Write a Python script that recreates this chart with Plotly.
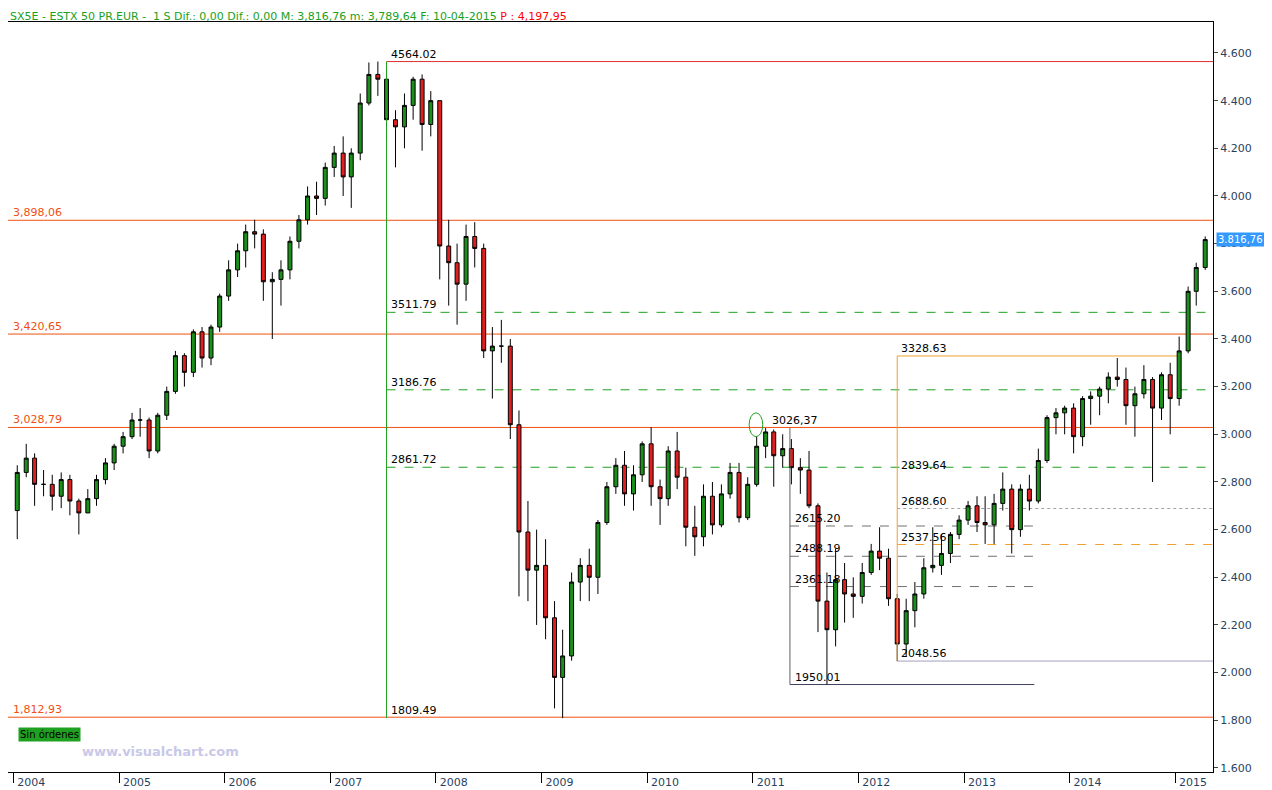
import plotly.graph_objects as go

months = [f"{y}-{m:02d}-15" for y in range(2004, 2016) for m in range(1, 13)][:136]
closes = [2840,2900,2790,2790,2740,2810,2720,2670,2730,2810,2880,2950,
          2990,3060,3060,2930,3080,3180,3330,3260,3430,3320,3450,3580,
          3690,3770,3850,3840,3640,3650,3690,3810,3900,4000,3990,4120,
          4180,4080,4180,4390,4510,4490,4320,4290,4380,4490,4300,4400,
          3790,3720,3630,3830,3780,3350,3370,3370,3040,2590,2430,2450,
          2230,1980,2070,2380,2450,2400,2630,2780,2870,2750,2830,2960,
          2780,2730,2930,2820,2610,2570,2740,2620,2750,2840,2650,2790,
          2950,3010,2910,2940,2860,2850,2700,2300,2180,2390,2330,2320,
          2420,2510,2480,2310,2120,2260,2330,2440,2450,2500,2580,2640,
          2700,2630,2620,2710,2770,2600,2770,2720,2890,3070,3090,3110,
          2990,3150,3160,3190,3240,3230,3120,3170,3230,3110,3250,3150,
          3350,3600,3700,3817]
first_open = 2680
highs = [2870,2960,2920,2850,2830,2840,2830,2730,2770,2830,2900,2960,
         3010,3090,3110,3070,3090,3200,3350,3340,3440,3450,3460,3590,
         3730,3800,3880,3900,3860,3680,3730,3830,3920,4040,4060,4140,
         4210,4250,4200,4430,4560,4564,4540,4360,4430,4500,4510,4440,
         4400,3900,3800,3880,3890,3800,3450,3480,3400,3100,2720,2600,
         2560,2300,2180,2420,2480,2520,2640,2800,2900,2930,2870,2970,
         3030,2810,2950,3010,2860,2700,2790,2800,2790,2880,2880,2820,
         2990,3026,3020,3000,2980,2900,2930,2710,2420,2520,2460,2400,
         2460,2540,2610,2520,2330,2310,2380,2480,2610,2580,2590,2660,
         2720,2740,2740,2750,2840,2790,2790,2830,2940,3080,3110,3120,
         3130,3160,3180,3200,3260,3320,3280,3200,3290,3240,3260,3300,
         3410,3620,3720,3830]
lows = [2560,2820,2700,2740,2680,2690,2660,2580,2670,2700,2790,2850,
        2920,2980,2990,2900,2920,3060,3170,3200,3240,3280,3290,3430,
        3560,3660,3700,3780,3560,3400,3540,3650,3780,3880,3920,3960,
        4080,4000,3950,4150,4380,4420,4230,4120,4200,4320,4190,4250,
        3650,3540,3460,3560,3700,3320,3150,3300,2980,2320,2300,2200,
        2140,1850,1809,2050,2300,2300,2330,2620,2750,2700,2680,2800,
        2700,2620,2700,2770,2530,2490,2530,2580,2610,2730,2630,2640,
        2780,2900,2780,2860,2790,2750,2690,2170,1950,2110,2210,2230,
        2290,2410,2430,2280,2048,2070,2190,2310,2420,2410,2460,2560,
        2620,2590,2540,2540,2680,2500,2570,2680,2710,2880,3000,3000,
        2920,2950,3040,3080,3130,3200,3040,2990,3150,2800,3060,3000,
        3120,3340,3540,3690]
opens = [first_open] + closes[:-1]

y_ticks = [1600,1800,2000,2200,2400,2600,2800,3000,3200,3400,3600,3800,4000,4200,4400,4600]
y_tick_text = [f"{v//1000}.{v%1000:03d}" for v in y_ticks]
years = list(range(2004, 2016))

fig = go.Figure(go.Candlestick(
    x=months, open=opens, high=highs, low=lows, close=closes,
    increasing=dict(fillcolor="#1a8f1a", line=dict(color="black", width=1)),
    decreasing=dict(fillcolor="#e02020", line=dict(color="black", width=1)),
    whiskerwidth=0, showlegend=False))

def hline(y, x0, x1, color, dash="solid", w=1):
    fig.add_shape(type="line", x0=x0, x1=x1, y0=y, y1=y, line=dict(color=color, dash=dash, width=w), layer="below")

def label(x, y, t, color="black", xanchor="left"):
    fig.add_annotation(x=x, y=y, text=t, showarrow=False, xanchor=xanchor, yanchor="bottom",
                       font=dict(size=11, color=color, family="DejaVu Sans"), yshift=-1)

END = "2015-06-01"
PK = "2007-07-15"
for v, t in [(3898.06, "3,898,06"), (3420.65, "3,420,65"), (3028.79, "3,028,79"), (1812.93, "1,812,93")]:
    hline(v, "2003-12-01", END, "#f05010")
    label("2003-12-25", v, t, "#f05010")
hline(4564.02, PK, END, "#e03030")
label("2007-07-25", 4564.02, "4564.02")
for v in [3511.79, 3186.76, 2861.72]:
    hline(v, PK, END, "#20a020", "dash")
    label("2007-07-25", v, f"{v:.2f}")
label("2007-07-25", 1809.49, "1809.49")
fig.add_shape(type="line", x0=PK, x1=PK, y0=1809.49, y1=4564.02, line=dict(color="#20a020", width=1))

F1 = "2011-05-10"
fig.add_shape(type="line", x0=F1, x1=F1, y0=1950.01, y1=3026.37, line=dict(color="#606060", width=1))
hline(1950.01, F1, "2013-09-01", "#404060")
label("2011-05-20", 1950.01, "1950.01")
label("2011-03-01", 3026.37, "3026,37")
for v, t in [(2615.20, "2615.20"), (2488.19, "2488.19"), (2361.18, "2361.18")]:
    hline(v, F1, "2013-09-01", "#707070", "dash")
    label("2011-05-20", v, t)
F2 = "2012-05-15"
fig.add_shape(type="line", x0=F2, x1=F2, y0=2048.56, y1=3328.63, line=dict(color="#f0a030", width=1))
hline(3328.63, F2, "2015-01-20", "#f0a030")
hline(2048.56, F2, END, "#a0a0c0")
label("2012-05-22", 3328.63, "3328.63")
label("2012-05-22", 2048.56, "2048.56")
label("2012-05-22", 2839.64, "2839.64")
hline(2688.60, F2, END, "#a0a0a0", "dot")
label("2012-05-22", 2688.60, "2688.60")
hline(2537.56, F2, END, "#f0a030", "dash")
label("2012-05-22", 2537.56, "2537.56")
fig.add_shape(type="circle", x0="2010-12-20", x1="2011-02-05", y0=2990, y1=3090, line=dict(color="#20a020", width=1))

fig.add_annotation(x=1.0, y=3816.76, xref="paper", text="3.816,76", showarrow=False, xanchor="left",
                   bgcolor="#3399ff", font=dict(color="white", size=10, family="DejaVu Sans"), xshift=3, borderpad=1)
fig.add_annotation(x=0, y=1, xref="paper", yref="paper", yanchor="bottom", xanchor="left", showarrow=False, yshift=-3,
                   text="SX5E - ESTX 50 PR.EUR -  1 S Dif.: 0,00 Dif.: 0,00 M: 3,816,76 m: 3,789,64 F: 10-04-2015 <span style='color:red'>P : 4,197,95</span>",
                   font=dict(size=11, color="#20a020", family="DejaVu Sans"))
fig.add_annotation(x=0.008, y=0.04, xref="paper", yref="paper", text="Sin órdenes", showarrow=False, xanchor="left",
                   bgcolor="#20a020", font=dict(color="black", size=10, family="DejaVu Sans"))
fig.add_annotation(x=0.06, y=0.015, xref="paper", yref="paper", text="<b>www.visualchart.com</b>", showarrow=False, xanchor="left",
                   font=dict(color="#c8c8e8", size=13, family="DejaVu Sans"))

fig.update_layout(
    width=1272, height=790, paper_bgcolor="white", plot_bgcolor="white",
    margin=dict(l=0, r=67, t=14, b=26),
    xaxis=dict(range=["2003-12-14", "2015-05-12"], rangeslider=dict(visible=False), showgrid=False,
               tickvals=[f"{y}-01-01" for y in years], ticktext=[str(y) for y in years],
               ticks="outside", ticklen=10, tickcolor="black", ticklabelshift=18, ticklabelstandoff=-10,
               showline=True, linecolor="black", mirror=True, tickfont=dict(size=11, family="DejaVu Sans")),
    yaxis=dict(side="right", range=[1583, 4730], tickvals=y_ticks, ticktext=y_tick_text, showgrid=False,
               ticks="outside", ticklen=4, showline=True, linecolor="black", mirror=True,
               tickfont=dict(size=11, family="DejaVu Sans")),
)
fig.write_html("out.html")
